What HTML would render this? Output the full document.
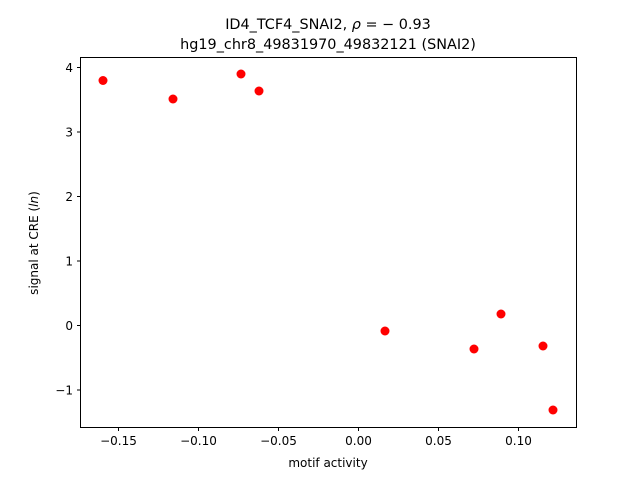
<!DOCTYPE html>
<html><head><style>body{margin:0;background:#fff}</style></head><body>
<svg width="640" height="480" xmlns="http://www.w3.org/2000/svg" font-family="DejaVu Sans, Liberation Sans, sans-serif">
<rect width="640" height="480" fill="#fff"/>
<text x="328" y="29" font-size="14.4" text-anchor="middle">ID4_TCF4_SNAI2, <tspan font-style="italic">ρ</tspan> = − 0.93</text>
<text x="328" y="49" font-size="14.4" text-anchor="middle">hg19_chr8_49831970_49832121 (SNAI2)</text>
<g fill="red">
<circle cx="103" cy="80.5" r="4.5"/><circle cx="173" cy="99" r="4.5"/><circle cx="241" cy="74" r="4.5"/><circle cx="259" cy="91" r="4.5"/><circle cx="385" cy="331" r="4.5"/><circle cx="474" cy="349" r="4.5"/><circle cx="501" cy="314" r="4.5"/><circle cx="543" cy="346" r="4.5"/><circle cx="553" cy="410" r="4.5"/>
</g>
<rect x="80.5" y="57.5" width="496" height="370" fill="none" stroke="#000" stroke-width="1"/>
<g stroke="#000" stroke-width="1">
<line x1="118.5" y1="428" x2="118.5" y2="431"/><line x1="198.5" y1="428" x2="198.5" y2="431"/><line x1="278.5" y1="428" x2="278.5" y2="431"/><line x1="358.5" y1="428" x2="358.5" y2="431"/><line x1="438.5" y1="428" x2="438.5" y2="431"/><line x1="518.5" y1="428" x2="518.5" y2="431"/>
<line x1="77" y1="67.5" x2="80" y2="67.5"/><line x1="77" y1="132" x2="80" y2="132"/><line x1="77" y1="196.5" x2="80" y2="196.5"/><line x1="77" y1="261" x2="80" y2="261"/><line x1="77" y1="325.5" x2="80" y2="325.5"/><line x1="77" y1="390" x2="80" y2="390"/>
</g>
<g font-size="12" text-anchor="middle">
<text x="118.5" y="445">−0.15</text><text x="198.5" y="445">−0.10</text><text x="278.5" y="445">−0.05</text><text x="358.5" y="445">0.00</text><text x="438.5" y="445">0.05</text><text x="518.5" y="445">0.10</text>
<text x="328" y="467">motif activity</text>
</g>
<g font-size="12" text-anchor="end">
<text x="73" y="72">4</text><text x="73" y="136.5">3</text><text x="73" y="201">2</text><text x="73" y="265.5">1</text><text x="73" y="330">0</text><text x="73" y="394.5">−1</text>
</g>
<text transform="translate(38,243) rotate(-90)" font-size="12" text-anchor="middle">signal at CRE (<tspan font-style="italic">ln</tspan>)</text>
</svg>
</body></html>
